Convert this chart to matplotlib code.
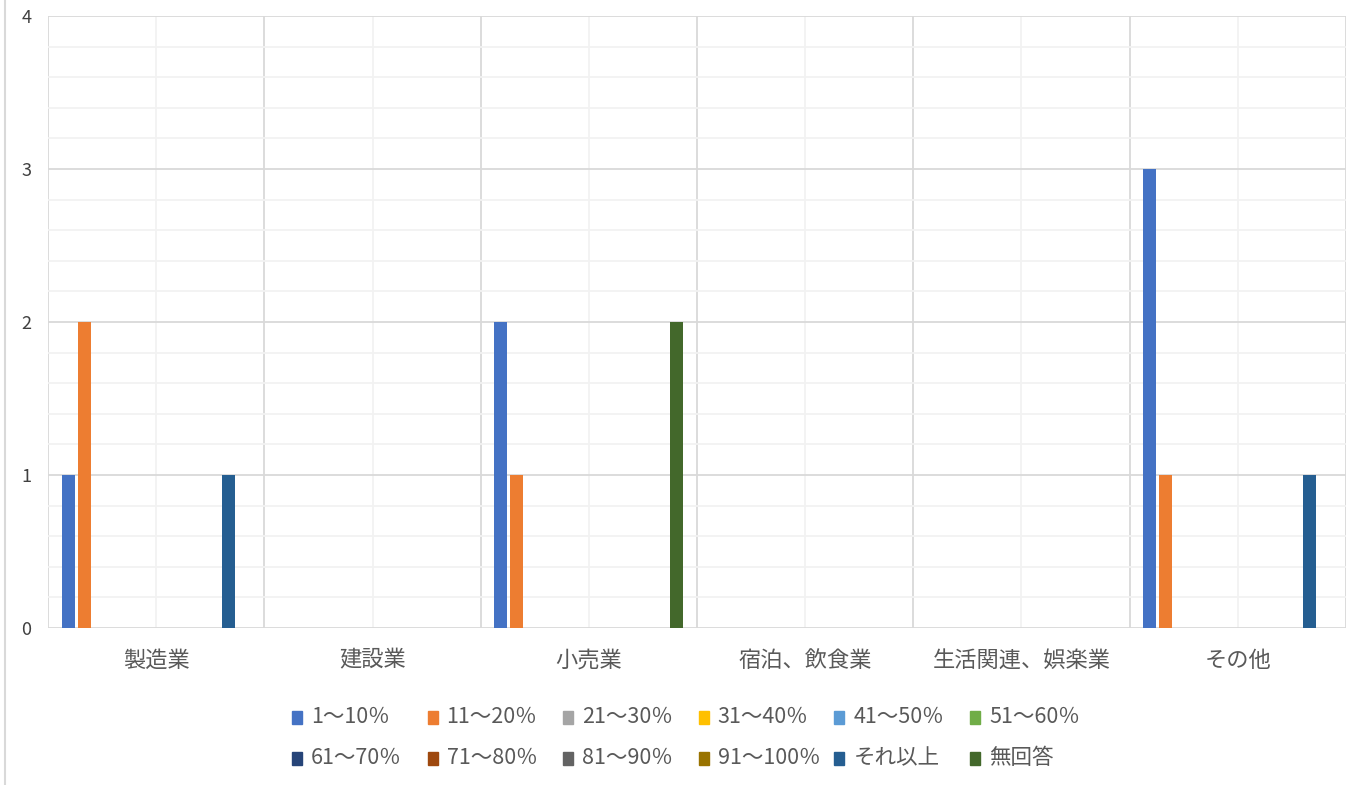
import numpy as np
import matplotlib
matplotlib.use('Agg')
import matplotlib.pyplot as plt
from matplotlib.ticker import MultipleLocator, FixedLocator
from matplotlib.lines import Line2D
from matplotlib.patches import Rectangle

plt.rcParams['font.family'] = ['Noto Sans CJK JP', 'DejaVu Sans']

categories = ["製造業", "建設業", "小売業", "宿泊、飲食業", "生活関連、娯楽業", "その他"]
series_names = ["1～10％", "11～20％", "21～30％", "31～40％", "41～50％", "51～60％",
                "61～70％", "71～80％", "81～90％", "91～100％", "それ以上", "無回答"]
colors = ["#4472C4", "#ED7D31", "#A5A5A5", "#FFC000", "#5B9BD5", "#70AD47",
          "#264478", "#9E480E", "#636363", "#997300", "#255E91", "#43682B"]

# counts per series, one value per category
values = [
    [1, 0, 2, 0, 0, 3],   # 1～10％
    [2, 0, 1, 0, 0, 1],   # 11～20％
    [0, 0, 0, 0, 0, 0],
    [0, 0, 0, 0, 0, 0],
    [0, 0, 0, 0, 0, 0],
    [0, 0, 0, 0, 0, 0],
    [0, 0, 0, 0, 0, 0],
    [0, 0, 0, 0, 0, 0],
    [0, 0, 0, 0, 0, 0],
    [0, 0, 0, 0, 0, 0],
    [1, 0, 0, 0, 0, 1],   # それ以上
    [0, 0, 2, 0, 0, 0],   # 無回答
]

W, H = 1351, 785
TXT = '#595959'
fig = plt.figure(figsize=(W / 100, H / 100), dpi=100)
ax = fig.add_axes([48/W, 0.2, 1298/W, 612/H])

x = np.arange(len(categories))
slot = 16 / 216.3
width = 13 / 216.3
for j, (name, vals, c) in enumerate(zip(series_names, values, colors)):
    ax.bar(x + (j - 5.5) * slot, vals, width, color=c, label=name, zorder=3)

ax.set_xlim(-0.5, len(categories) - 0.5)
ax.set_ylim(0, 4)
ax.yaxis.set_major_locator(MultipleLocator(1))
ax.yaxis.set_minor_locator(MultipleLocator(0.2))
ax.set_xticks(x)
ax.set_xticklabels(categories)
ax.xaxis.set_minor_locator(FixedLocator(np.arange(-0.5, len(categories), 1.0)))

ax.grid(which='major', axis='y', color='#D9D9D9', linewidth=1.3)
ax.grid(which='minor', axis='y', color='#F2F2F2', linewidth=1.3)
ax.grid(which='major', axis='x', color='#F2F2F2', linewidth=1.3)
ax.grid(which='minor', axis='x', color='#D9D9D9', linewidth=1.3)
ax.set_axisbelow(True)

for s in ax.spines.values():
    s.set_visible(False)
ax.tick_params(which='both', length=0)
ax.tick_params(axis='y', labelsize=13, pad=12, labelcolor='#404040')
ax.tick_params(axis='x', labelsize=16, pad=15, labelcolor=TXT)

# legend laid out like Excel: equal-width columns, row by row
ncol = 6
for j, (name, c) in enumerate(zip(series_names, colors)):
    r, k = divmod(j, ncol)
    x0 = 292 + k * 135.6
    yc = 717 + r * 41
    fig.add_artist(Rectangle((x0 / W, 1 - (yc + 6.5) / H), 10 / W, 13 / H,
                             transform=fig.transFigure, color=c))
    fig.text((x0 + 19) / W, 1 - yc / H, name, fontsize=15.5, color=TXT,
             ha='left', va='center')

# outer chart border on the left
fig.add_artist(Line2D([5/W, 5/W], [0, 1], color='#D9D9D9', linewidth=1.5))

fig.savefig('out.png', dpi=100)
